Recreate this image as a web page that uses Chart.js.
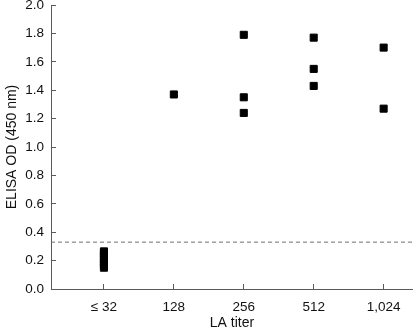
<!DOCTYPE html>
<html>
<head>
<meta charset="utf-8">
<script src="https://cdn.jsdelivr.net/npm/chart.js@4/dist/chart.umd.min.js"></script>
<style>
  html, body { margin: 0; padding: 0; background: #fff; }
  #wrap { width: 413px; height: 330px; }
</style>
</head>
<body>
<div id="wrap"><canvas id="c" width="413" height="330"></canvas></div>
<script>
// LA titer groups (x axis categories)
const titers = ['\u2264 32', '128', '256', '512', '1,024'];

// ELISA OD (450 nm) readings per titer group
const od32 = [0.15, 0.17, 0.19, 0.21, 0.23, 0.25, 0.265];
const od128 = [1.37];
const od256 = [1.79, 1.35, 1.24];
const od512 = [1.77, 1.55, 1.43];
const od1024 = [1.70, 1.27];

// Positivity cut-off
const cutoff = 0.33;

// Axis ranges
const yMin = 0, yMax = 2.0, yStep = 0.2;
const xMin = 0.243, xMax = 5.42;

const groups = [od32, od128, od256, od512, od1024];
const points = [];
groups.forEach((vals, i) => vals.forEach(v => points.push({ x: i + 1, y: v })));

const axisColor = '#5a5a5a';
const fontFamily = 'Liberation Sans, Arial, sans-serif';
const tickFont = { family: fontFamily, size: 13.5 };

new Chart(document.getElementById('c'), {
  type: 'scatter',
  data: {
    datasets: [
      {
        data: points,
        pointStyle: 'rect',
        pointRadius: 5,
        pointHoverRadius: 5,
        backgroundColor: '#000',
        borderColor: '#000',
        borderWidth: 1
      },
      {
        type: 'line',
        data: [{ x: xMin, y: cutoff }, { x: xMax, y: cutoff }],
        borderColor: '#6e6e6e',
        borderWidth: 1,
        borderDash: [4, 3],
        pointRadius: 0,
        fill: false
      }
    ]
  },
  options: {
    responsive: false,
    animation: false,
    layout: { autoPadding: false, padding: { top: 5, right: 0, left: 0, bottom: 0 } },
    plugins: { legend: { display: false }, tooltip: { enabled: false } },
    scales: {
      x: {
        type: 'linear',
        min: xMin,
        max: xMax,
        afterBuildTicks: s => { s.ticks = titers.map((t, i) => ({ value: i + 1 })); },
        afterFit: s => { s.height = 41; s.paddingLeft = 0; s.paddingRight = 0; },
        grid: { drawOnChartArea: false, tickLength: -5, color: axisColor, lineWidth: 1 },
        border: { color: axisColor, width: 1 },
        ticks: {
          padding: 15,
          color: '#111',
          font: tickFont,
          maxRotation: 0,
          autoSkip: false,
          callback: v => titers[Math.round(v) - 1]
        },
        title: {
          display: true,
          text: 'LA titer',
          color: '#111',
          font: { family: fontFamily, size: 14, lineHeight: 1 },
          padding: { top: 0, bottom: 0 }
        }
      },
      y: {
        min: yMin,
        max: yMax,
        afterFit: s => { s.width = 51; s.paddingTop = 0; s.paddingBottom = 0; },
        grid: { drawOnChartArea: false, tickLength: -5, color: axisColor, lineWidth: 1 },
        border: { color: axisColor, width: 1 },
        ticks: {
          stepSize: yStep,
          padding: 12,
          color: '#111',
          font: tickFont,
          callback: v => v.toFixed(1)
        },
        title: {
          display: true,
          text: 'ELISA OD (450 nm)',
          color: '#111',
          font: { family: fontFamily, size: 14, lineHeight: 1.2 },
          padding: { top: 4, bottom: 0 }
        }
      }
    }
  }
});
</script>
</body>
</html>
